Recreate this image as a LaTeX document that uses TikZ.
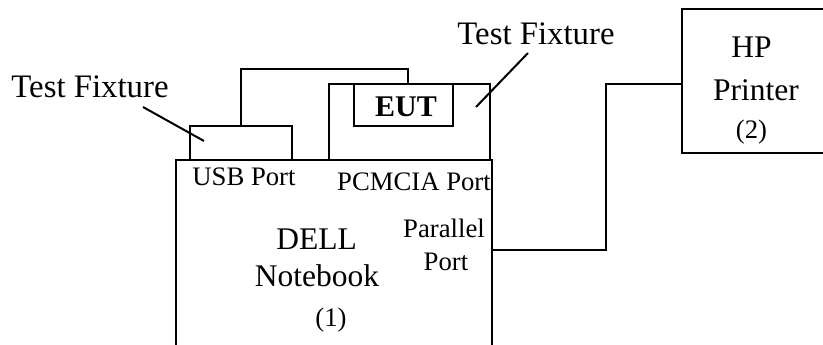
\documentclass[tikz,border=0pt]{standalone}
\usepackage{fontspec}
\setmainfont{Liberation Serif}
\begin{document}
\begin{tikzpicture}[x=1pt,y=-1pt,
  box/.style={draw,line width=2pt,inner sep=0pt,outer sep=0pt,rectangle,anchor=north west},
  wire/.style={line width=2pt},
  big/.style={font=\fontsize{31.5}{36}\selectfont,inner sep=0pt,anchor=base},
  label/.style={font=\fontsize{32.8}{36}\selectfont,inner sep=0pt,anchor=base},
  small/.style={font=\fontsize{26.7}{30}\selectfont,inner sep=0pt,anchor=base},
  bigb/.style={font=\fontsize{30}{34}\selectfont\bfseries,inner sep=0pt,anchor=base}]
\useasboundingbox (0,0) rectangle (823,345);
\clip (0,0) rectangle (823,345);
% boxes
\node[box,minimum width=316pt,minimum height=200pt] (nb) at (175.7,160) {};
\node[box,minimum width=102pt,minimum height=34pt] (usbf) at (190,126) {};
\node[box,minimum width=161pt,minimum height=76pt] (pcf) at (329,84) {};
\node[box,minimum width=99pt,minimum height=42pt] (eut) at (354,84) {};
\node[box,minimum width=160pt,minimum height=143.7pt] (prn) at (681.7,9) {};
% texts
\node[label] (lfix) at (90,98) {Test Fixture};
\node[label] (rfix) at (536,45) {Test Fixture};
\node[bigb] (euttext) at (406,116.7) {EUT};
\node[small] (usbtext) at (244,185) {USB Port};
\node[small] (pcmtext) at (414,190.7) {PCMCIA Port};
\node[big] (dell) at (316.5,249) {DELL};
\node[big] (notebook) at (317,286.7) {Notebook};
\node[small] (one) at (331,326.5) {(1)};
\node[small] (par) at (444,237) {Parallel};
\node[small] (port) at (446,270.7) {Port};
\node[big] (hp) at (751.5,58) {HP};
\node[big] (printer) at (756,100.5) {Printer};
\node[small] (two) at (751.5,138.5) {(2)};
% leader lines
\coordinate (l1) at (143,107);
\coordinate (l2) at (204,141);
\coordinate (r1) at (528,53);
\coordinate (r2) at (476,107);
\draw[wire] (l1) -- (l2);
\draw[wire] (r1) -- (r2);
% cables
\coordinate (c1) at (241,69);
\coordinate (c2) at (408,69);
\draw[wire] (c1 |- usbf.north) -- (c1) -- (c2) -- (c2 |- pcf.north);
\coordinate (p1) at (606,84);
\coordinate (p2) at (606,250);
\draw[wire] (prn.west |- p1) -- (p1) -- (p2) -- (nb.east |- p2);
\end{tikzpicture}
\end{document}
